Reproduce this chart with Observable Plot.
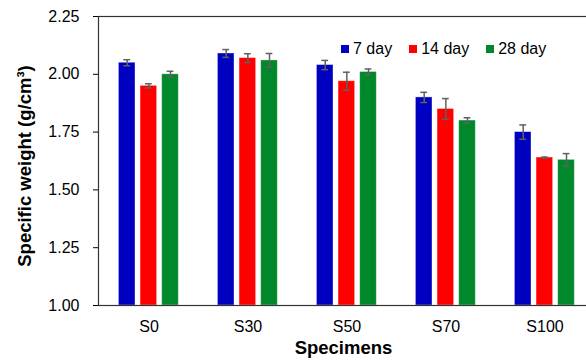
<!DOCTYPE html>
<html>
<head>
<meta charset="utf-8">
<script src="https://cdn.jsdelivr.net/npm/d3@7"></script>
<script src="https://cdn.jsdelivr.net/npm/@observablehq/plot@0.6"></script>
<style>
  html, body { margin: 0; padding: 0; background: #fff; overflow: hidden; }
  #wrap { position: relative; width: 586px; height: 360px; font-family: "Liberation Sans", Arial, sans-serif; }
  #legend { position: absolute; left: 341px; top: 41px; display: flex; align-items: center; font-size: 16px; line-height: 16px; color: #000; }
  #legend .item { display: flex; align-items: center; margin-right: 17px; }
  #legend .sw { width: 8px; height: 8px; margin-right: 4px; }
</style>
</head>
<body>
<div id="wrap"><div id="legend"></div></div>
<script>
// ---- data ----
const specimens = ["S0", "S30", "S50", "S70", "S100"];
const series = ["7 day", "14 day", "28 day"];
const colors = ["#0000C0", "#FF0000", "#00882B"];
const day7  = [2.05, 2.09, 2.04, 1.90, 1.75];
const day14 = [1.95, 2.07, 1.97, 1.85, 1.64];
const day28 = [2.00, 2.06, 2.01, 1.80, 1.63];
const err7  = [0.013, 0.017, 0.020, 0.022, 0.031];
const err14 = [0.009, 0.019, 0.039, 0.045, 0.002];
const err28 = [0.013, 0.030, 0.013, 0.012, 0.027];
const yTicks = [1.00, 1.25, 1.50, 1.75, 2.00, 2.25];
const xTitle = "Specimens";
const yTitle = "Specific weight (g/cm³)";

const values = [day7, day14, day28];
const errs = [err7, err14, err28];
const rows = [];
series.forEach((s, i) => specimens.forEach((sp, j) => rows.push({specimen: sp, series: s, value: values[i][j], err: errs[i][j]})));

// ---- layout ----
const W = 586, H = 360, mL = 98, mR = -8, mT = 16, mB = 55;
const step = (W - mR - mL) / specimens.length;
const firstOff = 19.4, pitch = 21.65, barW = 16.8, capW = 7;
const font = "'Liberation Sans', Arial, sans-serif";

const marks = [];
series.forEach((s, i) => {
  const d = rows.filter(r => r.series === s);
  const off = firstOff + i * pitch;
  const c = off + barW / 2;
  marks.push(Plot.barY(d, {x: "specimen", y1: 1, y2: "value", fill: colors[i],
    stroke: "white", strokeOpacity: 0.45, strokeWidth: 0.8,
    insetLeft: off, insetRight: step - off - barW}));
  marks.push(Plot.ruleX(d, {x: "specimen", y1: r => r.value - r.err, y2: r => r.value + r.err,
    dx: c - step / 2, stroke: "#606060", strokeWidth: 1.5}));
  for (const sign of [-1, 1]) {
    marks.push(Plot.tickY(d, {x: "specimen", y: r => r.value + sign * r.err, stroke: "#606060", strokeWidth: 1.5,
      insetLeft: c - capW / 2, insetRight: step - c - capW / 2}));
  }
});
marks.push(Plot.frame({stroke: "#333", strokeWidth: 1.2}));
marks.push(Plot.text([xTitle], {text: d => d, frameAnchor: "bottom", textAnchor: "middle", dy: 48, dx: -3,
  fontSize: 18.5, fontWeight: "bold", fill: "#000"}));
marks.push(Plot.text([yTitle], {text: d => d, frameAnchor: "left", textAnchor: "middle", rotate: -90, dx: -73, dy: 5,
  fontSize: 18.5, fontWeight: "bold", fill: "#000"}));

const chart = Plot.plot({
  width: W, height: H,
  marginLeft: mL, marginRight: mR, marginTop: mT, marginBottom: mB,
  style: {fontSize: "16px", fontFamily: font, color: "#000", background: "white"},
  x: {domain: specimens, padding: 0, tickSize: 0, tickPadding: 15, label: null},
  y: {domain: [1, 2.25], ticks: yTicks, tickFormat: d3.format(".2f"), tickSize: 5, tickPadding: 14, label: null},
  marks
});
const wrap = document.getElementById("wrap");
wrap.insertBefore(chart, wrap.firstChild);

const legend = document.getElementById("legend");
series.forEach((s, i) => {
  const item = document.createElement("div");
  item.className = "item";
  const sw = document.createElement("div");
  sw.className = "sw";
  sw.style.background = colors[i];
  const t = document.createElement("span");
  t.textContent = s;
  item.appendChild(sw); item.appendChild(t);
  legend.appendChild(item);
});
</script>
</body>
</html>
